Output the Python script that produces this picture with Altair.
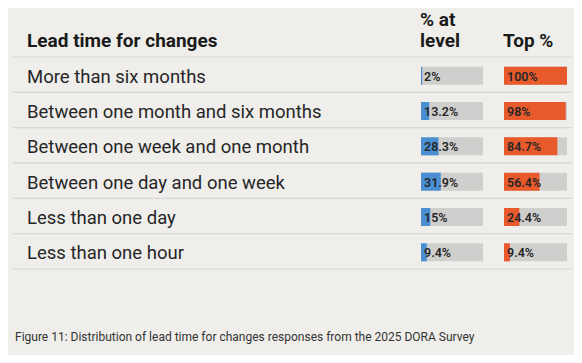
import altair as alt
import pandas as pd

categories = [
    "More than six months",
    "Between one month and six months",
    "Between one week and one month",
    "Between one day and one week",
    "Less than one day",
    "Less than one hour",
]
at_level = [2, 13.2, 28.3, 31.9, 15, 9.4]
top_pct = [100, 98, 84.7, 56.4, 24.4, 9.4]

header_label = "Lead time for changes"
header_at_level = ["% at", "level"]
header_top = "Top %"
caption = "Figure 11: Distribution of lead time for changes responses from the 2025 DORA Survey"

BG = "#efeeeb"
GRAY = "#cfcfcd"
BLUE = "#4a8fd4"
ORANGE = "#e85a2c"
FONT = "Roboto"

df = pd.DataFrame({
    "cat": categories,
    "level": at_level,
    "top": top_pct,
    "level_lbl": [f"{v:g}%" for v in at_level],
    "top_lbl": [f"{v:g}%" for v in top_pct],
    "full": [100] * len(categories),
    "zero": [0] * len(categories),
})

Y_RANGE = [50, 262]


def y_band(pad_inner=0.49):
    return alt.Y(
        "cat:N",
        sort=categories,
        axis=None,
        scale=alt.Scale(
            domain=categories,
            range=Y_RANGE,
            paddingInner=pad_inner,
            paddingOuter=pad_inner / 2,
        ),
    )


base = alt.Chart(df)

SEP_RANGE = [49, 261]
sep_top = base.mark_rule(color="#d8d7d4", strokeWidth=1).encode(
    y=alt.Y("cat:N", sort=categories, axis=None, bandPosition=0,
            scale=alt.Scale(domain=categories, range=SEP_RANGE, paddingInner=0, paddingOuter=0)),
    x=alt.value(5), x2=alt.value(564),
)
sep_bot = base.mark_rule(color="#d8d7d4", strokeWidth=1).encode(
    y=alt.Y("cat:N", sort=categories, axis=None, bandPosition=1,
            scale=alt.Scale(domain=categories, range=SEP_RANGE, paddingInner=0, paddingOuter=0)),
    x=alt.value(5), x2=alt.value(564),
)
seps = alt.layer(sep_top, sep_bot)

row_labels = base.mark_text(
    align="left", baseline="middle", font=FONT, fontSize=18.5, color="#262626", dy=1
).encode(
    x=alt.value(19),
    y=y_band(),
    text="cat:N",
)


def bar_block(field, lbl, color, rng):
    xs = alt.Scale(domain=[0, 100], range=rng, zero=True, nice=False)
    bg = base.mark_bar(color=GRAY, cornerRadius=0).encode(
        x=alt.X("full:Q", scale=xs, axis=None),
        x2=alt.X2("zero:Q"),
        y=y_band(),
    )
    fg = base.mark_bar(color=color).encode(
        x=alt.X(f"{field}:Q", scale=xs, axis=None),
        x2=alt.X2("zero:Q"),
        y=y_band(),
    )
    tx = base.mark_text(
        align="left", baseline="middle", dx=3, dy=1, font=FONT, fontSize=12.5,
        fontWeight=600, color="#262626",
    ).encode(
        x=alt.X("zero:Q", scale=xs, axis=None),
        y=y_band(),
        text=f"{lbl}:N",
    )
    return alt.layer(bg, fg, tx)


left = bar_block("level", "level_lbl", BLUE, [413, 475])
right = bar_block("top", "top_lbl", ORANGE, [496, 559])

one = alt.Chart(pd.DataFrame({"a": [0]}))
HS = 19
h1 = one.mark_text(text=header_label, align="left", baseline="middle", font=FONT,
                   fontSize=HS, fontWeight="bold", color="#1a1a1a").encode(
    x=alt.value(19), y=alt.value(33))
h2a = one.mark_text(text=header_at_level[0], align="left", baseline="middle", font=FONT,
                    fontSize=HS, fontWeight="bold", color="#1a1a1a").encode(
    x=alt.value(412), y=alt.value(12))
h2b = one.mark_text(text=header_at_level[1], align="left", baseline="middle", font=FONT,
                    fontSize=HS, fontWeight="bold", color="#1a1a1a").encode(
    x=alt.value(412), y=alt.value(33))
h3 = one.mark_text(text=header_top, align="left", baseline="middle", font=FONT,
                   fontSize=HS, fontWeight="bold", color="#1a1a1a").encode(
    x=alt.value(495), y=alt.value(33))
cap = one.mark_text(text=caption, align="left", baseline="middle", font=FONT,
                    fontSize=12, color="#333333").encode(
    x=alt.value(7), y=alt.value(329))

chart = alt.layer(
    seps, row_labels, left, right, h1, h2a, h2b, h3, cap
).resolve_scale(x="independent", y="independent").properties(
    width=566, height=347, padding=0, background=BG,
    autosize=alt.AutoSizeParams(type="none"),
).configure_view(stroke=None)

chart.save("out.html", embed_options={"renderer": "svg", "actions": False})
